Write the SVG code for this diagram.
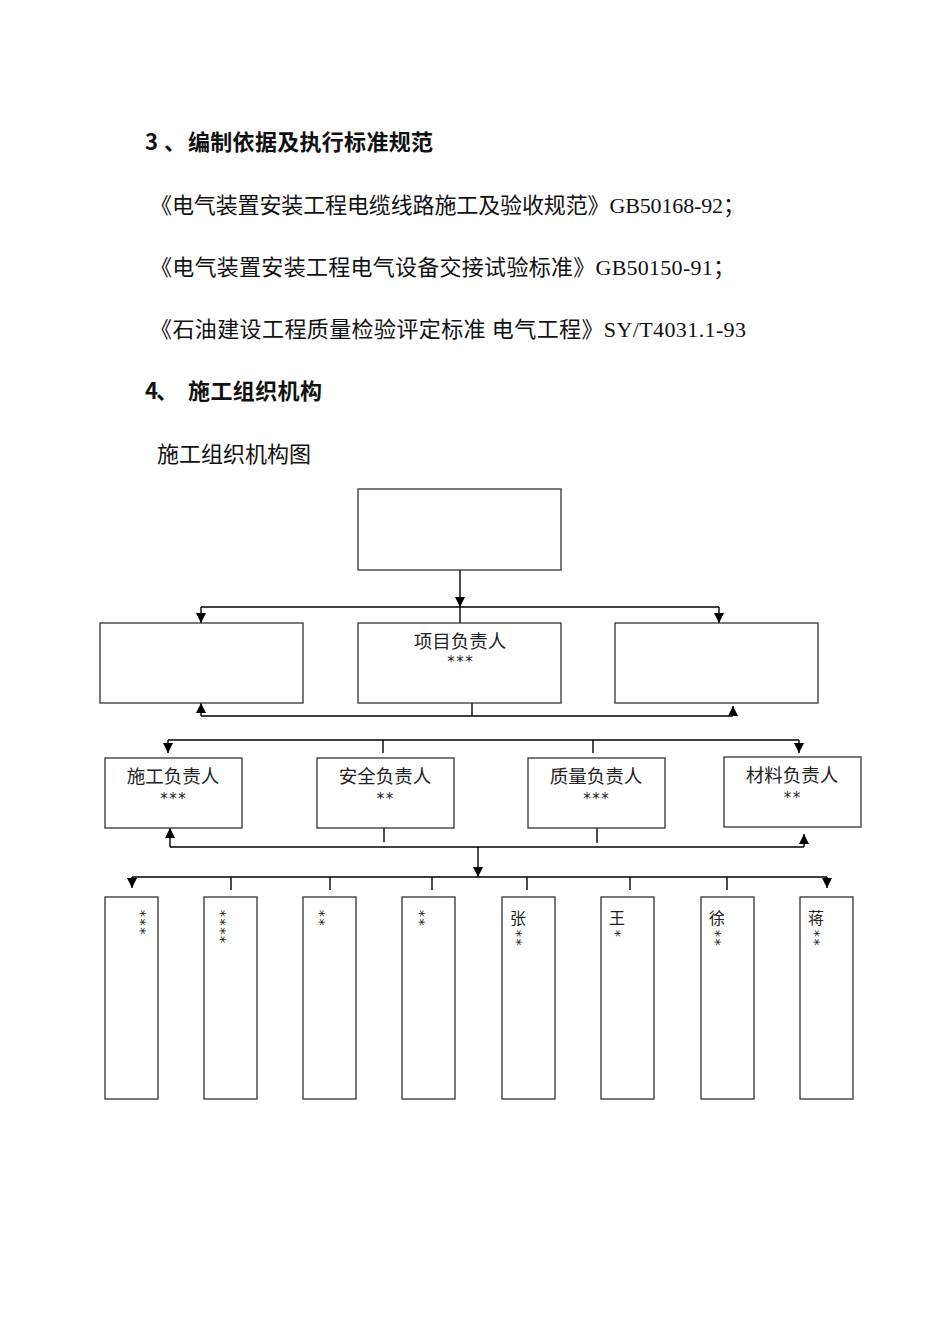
<svg xmlns="http://www.w3.org/2000/svg" width="950" height="1344" viewBox="0 0 950 1344">
<style>
.bg{fill:#ffffff}
.h{font-family:"Noto Sans CJK SC","Liberation Sans",sans-serif;font-size:22px;font-weight:700;fill:#111}
.b{font-family:"Liberation Serif","Noto Sans CJK SC",serif;font-size:22px;fill:#111}
.lbl{font-family:"Noto Sans CJK SC","Liberation Sans",sans-serif;font-size:18.5px;fill:#222;text-anchor:middle}
.st{font-family:"DejaVu Sans Mono","Liberation Mono",monospace;font-size:15px;fill:#222;text-anchor:middle}
.vt{font-family:"DejaVu Sans Mono","Liberation Mono",monospace;font-size:14.5px;fill:#222;writing-mode:vertical-rl}
.vc{font-family:"Noto Sans CJK SC",sans-serif;font-size:16px}
.box{fill:#fff;stroke:#333;stroke-width:1.3}
.ln{fill:none;stroke:#000;stroke-width:1.4}
.ar{fill:none;stroke:#000;stroke-width:1.4;marker-end:url(#ah)}
</style>
<defs>
<marker id="ah" markerUnits="userSpaceOnUse" markerWidth="10" markerHeight="10" viewBox="0 0 10 10" refX="10" refY="5" orient="auto">
<path d="M0,0 L10,5 L0,10 Z" fill="#000"/>
</marker>
</defs>
<rect class="bg" x="0" y="0" width="950" height="1344"/>

<g id="text">
<text class="h" y="150"><tspan x="145">3</tspan><tspan x="164">、</tspan><tspan x="188" textLength="245">编制依据及执行标准规范</tspan></text>
<text class="b" x="150" y="213" textLength="595">《电气装置安装工程电缆线路施工及验收规范》GB50168-92；</text>
<text class="b" x="150" y="275" textLength="585">《电气装置安装工程电气设备交接试验标准》GB50150-91；</text>
<text class="b" x="150" y="337" textLength="596">《石油建设工程质量检验评定标准 电气工程》SY/T4031.1-93</text>
<text class="h" y="399"><tspan x="145">4</tspan><tspan x="156">、</tspan><tspan x="188" textLength="134">施工组织机构</tspan></text>
<text class="b" x="157" y="462" textLength="154">施工组织机构图</text>
</g>

<g id="connectors">
<path class="ar" d="M460,570 V607"/>
<path class="ln" d="M460,607 V623"/>
<path class="ln" d="M201,607 H719"/>
<path class="ar" d="M201,607 V623"/>
<path class="ar" d="M719,607 V623"/>

<path class="ln" d="M472,703 V716"/>
<path class="ln" d="M201,716 H733"/>
<path class="ar" d="M201,716 V703"/>
<path class="ar" d="M733,716 V706"/>

<path class="ln" d="M168,740 H799"/>
<path class="ar" d="M168,740 V753"/>
<path class="ar" d="M799,740 V753"/>
<path class="ln" d="M383,740 V753"/>
<path class="ln" d="M593,740 V753"/>

<path class="ln" d="M170,847 H804"/>
<path class="ar" d="M170,847 V828"/>
<path class="ar" d="M804,847 V834"/>
<path class="ln" d="M384,828 V842"/>
<path class="ln" d="M597,828 V843"/>

<path class="ar" d="M478,847 V877"/>
<path class="ln" d="M132,877 H827"/>
<path class="ar" d="M132,877 V888"/>
<path class="ar" d="M827,877 V888"/>
<path class="ln" d="M231,877 V890 M330,877 V890 M432,877 V890 M527,877 V890 M630,877 V890 M727,877 V890"/>
</g>

<g id="n-top"><rect class="box" x="358" y="489" width="203" height="81"/></g>
<g id="n-left"><rect class="box" x="100" y="623" width="203" height="80"/></g>
<g id="n-pm"><rect class="box" x="358" y="623" width="203" height="80"/>
<text class="lbl" x="460" y="648">项目负责人</text><text class="st" x="460" y="667">***</text></g>
<g id="n-right"><rect class="box" x="615" y="623" width="203" height="80"/></g>

<g id="n-sg"><rect class="box" x="105" y="758" width="137" height="70"/>
<text class="lbl" x="173" y="783">施工负责人</text><text class="st" x="173" y="804">***</text></g>
<g id="n-aq"><rect class="box" x="317" y="758" width="137" height="70"/>
<text class="lbl" x="385" y="783">安全负责人</text><text class="st" x="385" y="804">**</text></g>
<g id="n-zl"><rect class="box" x="528" y="758" width="137" height="70"/>
<text class="lbl" x="596" y="783">质量负责人</text><text class="st" x="596" y="804">***</text></g>
<g id="n-cl"><rect class="box" x="724" y="757" width="137" height="70"/>
<text class="lbl" x="792" y="782">材料负责人</text><text class="st" x="792" y="803">**</text></g>

<g id="w1"><rect class="box" x="105" y="897" width="53" height="202"/>
<text class="vt" x="141" y="909">***</text></g>
<g id="w2"><rect class="box" x="204" y="897" width="53" height="202"/>
<text class="vt" x="221" y="909">****</text></g>
<g id="w3"><rect class="box" x="303" y="897" width="53" height="202"/>
<text class="vt" x="320" y="909">**</text></g>
<g id="w4"><rect class="box" x="402" y="897" width="53" height="202"/>
<text class="vt" x="420" y="909">**</text></g>
<g id="w5"><rect class="box" x="502" y="897" width="53" height="202"/>
<text class="vt" x="518" y="910"><tspan class="vc">张</tspan><tspan dx="-1" dy="3">**</tspan></text></g>
<g id="w6"><rect class="box" x="601" y="897" width="53" height="202"/>
<text class="vt" x="617" y="910"><tspan class="vc">王</tspan><tspan dx="-1" dy="3">*</tspan></text></g>
<g id="w7"><rect class="box" x="701" y="897" width="53" height="202"/>
<text class="vt" x="717" y="910"><tspan class="vc">徐</tspan><tspan dx="-1" dy="3">**</tspan></text></g>
<g id="w8"><rect class="box" x="800" y="897" width="53" height="202"/>
<text class="vt" x="816" y="910"><tspan class="vc">蒋</tspan><tspan dx="-1" dy="3">**</tspan></text></g>
</svg>
